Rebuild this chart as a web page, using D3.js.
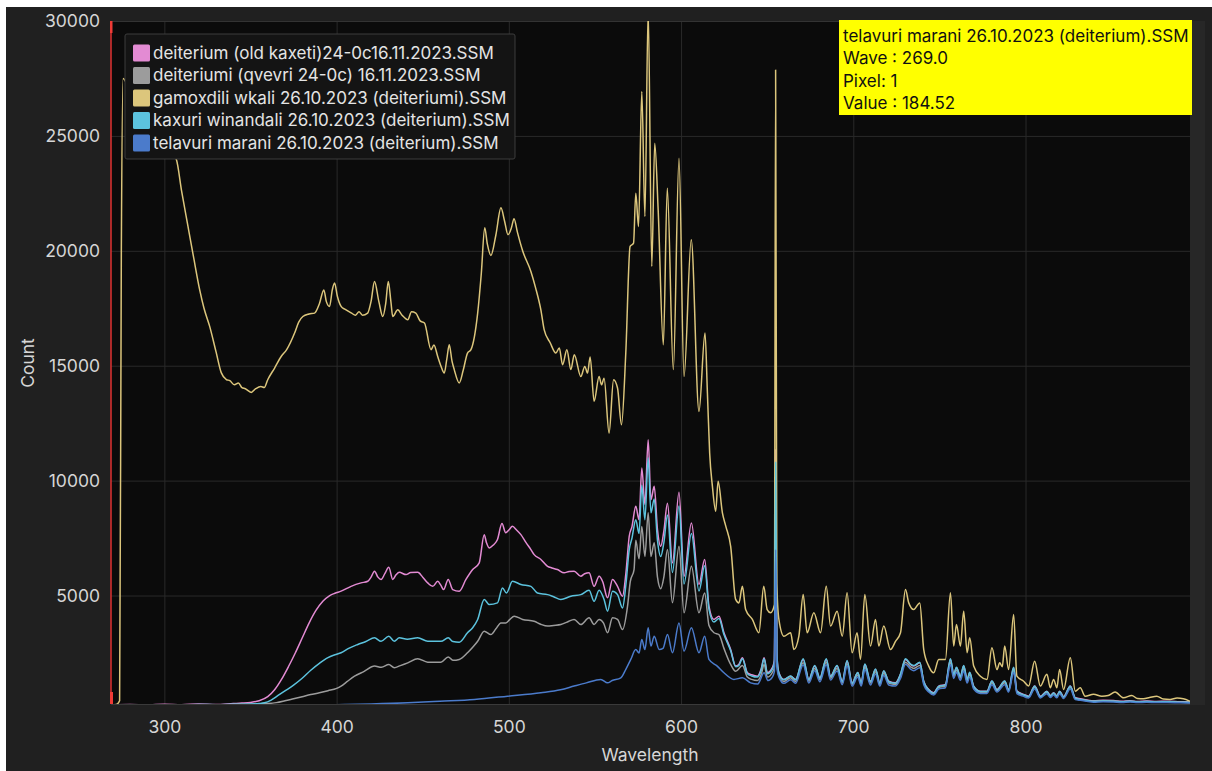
<!DOCTYPE html>
<html><head><meta charset="utf-8">
<script src="https://cdn.jsdelivr.net/npm/d3@7"></script>
<style>html,body{margin:0;padding:0;background:#fff;} svg{display:block;}</style>
</head><body><svg id="c" width="1212" height="771"></svg>
<script>
// ---------------- DATA ----------------
const seriesNames = [
  "deiterium (old kaxeti)24-0c16.11.2023.SSM",
  "deiteriumi (qvevri 24-0c) 16.11.2023.SSM",
  "gamoxdili wkali 26.10.2023 (deiteriumi).SSM",
  "kaxuri winandali 26.10.2023 (deiterium).SSM",
  "telavuri marani 26.10.2023 (deiterium).SSM"
];
const seriesColors = ["#e38bd3", "#9c9c9c", "#dcc67c", "#5cc3de", "#4b7bcb"];
const xTicks = [300, 400, 500, 600, 700, 800];
const yTicks = [5000, 10000, 15000, 20000, 25000, 30000];
const tooltipLines = ["telavuri marani 26.10.2023 (deiterium).SSM", "Wave : 269.0", "Pixel: 1", "Value : 184.52"];

// yellow: gamoxdili wkali
const gamoxdili = [[269,250],[272,260],[274,420],[275,20000],[276,27500],[278,27300],[282,26800],[288,26000],[295,25200],[301,24600],[307,23960],[310,22600],[313.7,21060],[317,19700],[320.5,18300],[323,17500],[326.3,16710],[330,15600],[333,14700],[336,14400],[338,14350],[340.6,14170],[343,14250],[345,14050],[347,14000],[350.4,13840],[353,14000],[356,14100],[358,14050],[360,14390],[364,14900],[367.8,15400],[371,15700],[375.6,16420],[378,16900],[380.4,17140],[384,17250],[387.2,17290],[390,17700],[392.6,18300],[394,17800],[395.9,17580],[397.5,18300],[398.8,18600],[400.5,18000],[402.6,17580],[405,17450],[408.4,17300],[411,17200],[413,17350],[415,17200],[418,17290],[420,17800],[422,18670],[424.5,17800],[426.8,17140],[428.5,17700],[430,18670],[431.5,17800],[432.6,17140],[435.5,17430],[438,17200],[441.3,17000],[443.5,17350],[446,17290],[448.5,16950],[451,16860],[454.8,15700],[456.5,15900],[458.7,15400],[460.5,15000],[462.5,14680],[464,15300],[465.4,15910],[467,15200],[468.3,14830],[471.2,14250],[473.5,14800],[476,15550],[478,15700],[481.9,17290],[484,19000],[486,21000],[487.5,20300],[489.6,19800],[492.5,20700],[495.4,21870],[497.5,21300],[499.5,20700],[501.5,21000],[503,21400],[505,20800],[508,20000],[512.8,19100],[515.5,18400],[518.6,17430],[520.5,16570],[524,16000],[527.3,15550],[529.3,15770],[531.2,15040],[533.7,15700],[536,14830],[538,15480],[541.8,14530],[544.1,14970],[545.7,14680],[547.2,15380],[549.5,13450],[552.4,14530],[553.8,14170],[555.3,14460],[558.2,12070],[560.8,14390],[563.1,14030],[565.4,12430],[567.9,15550],[570.4,20190],[572.4,20330],[573.7,22500],[575.3,21060],[577.2,26930],[579,21490],[580.9,30500],[583,19320],[584.7,24680],[586.7,21780],[589.7,15910],[592,22720],[595.5,14830],[598.8,24030],[601.7,14530],[605.9,20480],[610.4,13010],[613.9,16420],[615.3,13800],[616.6,11200],[618.2,9750],[620.1,8670],[621.5,9970],[624,8600],[626,8010],[628.8,7140],[631.7,4830],[633.6,4680],[635.6,5400],[637.5,4390],[641.4,3960],[645.2,3380],[648,5400],[650,4390],[652,4250],[654.2,4600],[654.9,27870],[655.6,5500],[656.8,3960],[659.7,3230],[663.6,3380],[665.5,2650],[668.4,3230],[670.9,5040],[673.2,3380],[677.1,4250],[681,3380],[684.3,5400],[686.8,3670],[690.6,4320],[693.6,3230],[696.4,5120],[699.3,2510],[702.2,3380],[704.2,2220],[706.7,5040],[710,2800],[712.9,3960],[714.8,2800],[717.7,3670],[721.6,2650],[724.5,3000],[727.4,3380],[730.3,5260],[732.2,4680],[735.1,4390],[738.6,4680],[740.9,2650],[743.8,1930],[746.7,1640],[749.6,2220],[753.5,2220],[756.4,5120],[758.3,2800],[759.9,3740],[762.2,2800],[764.1,4320],[766.1,2510],[767.6,3160],[769.9,1930],[773.8,1490],[777.6,1350],[780.5,2730],[783.4,1780],[785,2070],[786.5,1900],[787.9,2800],[790.2,1780],[793.1,4170],[795,1490],[798.9,1270],[801.8,1060],[805.3,2140],[808.6,1060],[812.4,1570],[814.4,990],[816.3,1350],[818.2,990],[819.8,1780],[822.1,910],[826,2290],[828.9,840],[831.8,990],[834.6,620],[839.5,700],[844.3,620],[848,650],[852,800],[856.9,550],[861.7,650],[865,520],[868.5,510],[872,560],[876.2,620],[880,500],[883.9,480],[888,540],[891.6,510],[895.5,400]];

// heads (269 .. 655.6) for the four lower series
const pinkHead = [[269,250],[280,260],[290,240],[300,270],[310,250],[320,280],[330,260],[340,300],[345,320],[350,350],[355,420],[360,600],[364,900],[368,1350],[372,1900],[376,2500],[380,3150],[384,3800],[388,4350],[392,4750],[396,5000],[399,5100],[402.6,5190],[408.4,5400],[414.2,5550],[418.1,5620],[420,5800],[422,6060],[424,5800],[425.8,5700],[428,5950],[430.3,6230],[432.6,5700],[434.5,5900],[436.4,6010],[440.3,5910],[443,6000],[447.1,6010],[450,5800],[452.9,5550],[455.8,5400],[458.7,5620],[460.5,5450],[462.1,5260],[464.8,5700],[467.4,5260],[471.2,5190],[475.1,5700],[479,6130],[482.8,6420],[485.7,7650],[487,7300],[488.6,7070],[491,7200],[493.4,7440],[496,8130],[498.2,7730],[500,7850],[502.1,8010],[504.5,7850],[507,7650],[510,7300],[512.8,7000],[514.7,6780],[518.6,6570],[522.5,6270],[525,6200],[528.2,6130],[532.1,5990],[535,6050],[537.9,6060],[541.8,5840],[544,5950],[546.6,5990],[549.5,5400],[552.4,5840],[554.5,5600],[557.3,4900],[560.2,5700],[563.1,5400],[566,4970],[568,6000],[569.9,7580],[571.5,8000],[573.7,8880],[575.6,8300],[577.2,10550],[579,8960],[580.9,11780],[582.5,9170],[584.4,9750],[586.3,7870],[588.2,7140],[590,7800],[592.1,9020],[595,6420],[598.8,9490],[601.7,5840],[606,8160],[610.4,5480],[613.7,6570],[616.2,4530],[619.1,3960],[622,4100],[624.9,3380],[628.8,2650],[631.7,1930],[633.5,2000],[635.6,2290],[638.5,1640],[641,1550],[644.3,1490],[646.5,1800],[648.2,2290],[650.1,1640],[653,1860],[654.2,2200],[654.9,11350],[655.6,2500]];
const grayHead = [[269,220],[280,230],[290,220],[300,240],[310,230],[320,250],[330,240],[340,260],[350,270],[355,280],[360,300],[365,340],[370,420],[375,510],[380,600],[385,690],[390,770],[395,860],[400,960],[402.6,1060],[406,1250],[410.4,1490],[416,1700],[422,1930],[426,1880],[430.3,2000],[433.5,1860],[437,1950],[441.3,2070],[447.1,2250],[452.9,2100],[460.6,2100],[464.8,2330],[467.5,2180],[471.2,2220],[476,2510],[479,2750],[481.9,3010],[485.7,3450],[489.6,3300],[492.5,3550],[495.4,3810],[498.3,3810],[500.5,3950],[503.1,4100],[508,3960],[514.7,3880],[518.5,3750],[522.5,3670],[526,3700],[530.2,3740],[534,3850],[537.9,3960],[541.8,3740],[546.6,4030],[549.5,3740],[552.4,3960],[555,3800],[557.3,3380],[560.2,4030],[563.1,3960],[566,3520],[568.9,4530],[570.5,5600],[572.7,6130],[573.7,7400],[575.6,6600],[577.2,8000],[579,6700],[580.9,8600],[582.5,6700],[584.4,7300],[586.3,5800],[588.2,5300],[590,5800],[592.1,7000],[595,4690],[598.8,7140],[601.7,4250],[606,6270],[610.4,4250],[613.7,5110],[616.2,3700],[619.1,3380],[622,3300],[624.9,2700],[628.8,2000],[631.7,1700],[635.6,1950],[638.5,1450],[641,1350],[644.3,1300],[646.5,1550],[648.2,2000],[650.1,1450],[653,1650],[654.2,1900],[654.9,9000],[655.6,2100]];
const cyanHead = [[269,230],[280,240],[290,230],[300,250],[310,240],[320,260],[330,250],[340,270],[350,280],[355,300],[358,330],[362,450],[366,650],[370,850],[375,1100],[380,1400],[385,1750],[390,2050],[395,2300],[399,2420],[402.6,2510],[407,2700],[412.3,2870],[417,3000],[422,3160],[425.8,3010],[430.3,3230],[433.5,3010],[436.4,3160],[441,3100],[447.1,3160],[452.9,3010],[460.6,3010],[464.8,3160],[467.5,3000],[471.2,2970],[476,3380],[479,3600],[481.9,3960],[485.7,4830],[488.6,4610],[493.4,4680],[496.3,5330],[498.6,5110],[502.1,5620],[507,5480],[512.8,5400],[516.6,5110],[522.5,5040],[526,4950],[530.2,4830],[536,4970],[541.8,5040],[546.6,5230],[549.5,4750],[552.4,5230],[555.3,4830],[557.3,4320],[560.2,5190],[563.1,5040],[566,4460],[568,5500],[569.9,7000],[571.5,7500],[573.7,8300],[575.6,7700],[577.2,9800],[579,8300],[580.9,11000],[582.5,8600],[584.4,9200],[586.3,7400],[588.2,6700],[590,7300],[592.1,8500],[595,6000],[598.8,8900],[601.7,5500],[606,7700],[610.4,5200],[613.7,6300],[616.2,4400],[619.1,3850],[622,4000],[624.9,3300],[628.8,2600],[631.7,1900],[633.5,1950],[635.6,2250],[638.5,1600],[641,1500],[644.3,1450],[646.5,1750],[648.2,2250],[650.1,1600],[653,1800],[654.2,2100],[654.9,10800],[655.6,2400]];
const blueHead = [[269,200],[280,210],[290,200],[300,215],[320,210],[340,220],[360,225],[380,230],[400,250],[420,280],[441.3,330],[460,400],[480,480],[499.3,620],[518.6,770],[530,900],[537.9,1060],[545,1200],[553.4,1350],[557.3,1200],[560,1300],[565,1420],[568,1800],[570.8,2220],[573.7,2650],[575.6,2500],[577.2,3090],[579,2650],[580.9,3600],[582.5,2800],[584.4,3230],[587.3,2650],[589.5,2700],[592.1,3300],[595,2510],[598.8,3810],[601.7,2580],[606,3600],[610.4,2510],[613.7,3230],[616.2,2220],[621,1930],[624.9,1640],[630.7,1350],[635.6,1420],[640.4,1200],[644.5,1150],[648.2,1640],[650.5,1300],[653,1450],[654.2,1700],[654.9,7000],[655.6,1900]];

// tails (656.8 .. 895) share one wavelength list
const tailWaves = [656.8,659.7,663.6,666.5,670.9,674.2,677.6,680.6,684.3,686.8,690.6,693.6,696.4,699.3,702.6,704.6,706.7,710,712.9,715.4,717.7,720.6,724.5,727.4,730.3,733.2,735.1,738.6,740.9,743.8,746.7,749.6,753.5,756.4,758.3,759.9,762.2,764.1,766.1,767.6,769.9,773.8,777.6,780.5,783.4,787.9,790.2,793.1,795,798.9,801.8,805.3,808.6,812.4,814.4,816.3,818.2,819.8,822.1,826,828.9,831.8,839.5,845,851,856,860.7,865,870.4,876,882,889.7,895.5];
const pinkTail = [1640,1350,1490,1350,2220,1350,1930,1420,2220,1490,1930,1270,2140,1200,1640,1200,2000,1270,1780,1200,1710,1270,1200,1570,2220,2000,1930,2070,1270,910,770,1060,1130,2220,1570,1860,1490,1930,1350,1640,1060,840,840,1270,910,1270,910,1860,840,700,620,1060,620,840,650,770,640,840,600,1060,550,510,420,440,430,400,420,390,410,390,400,380,370];
const grayTail = [1520,1260,1420,1260,2080,1270,1820,1330,2100,1400,1820,1190,2020,1130,1540,1120,1880,1190,1680,1130,1620,1190,1130,1480,2100,1900,1830,1960,1200,850,720,1000,1060,2100,1480,1760,1400,1820,1270,1560,1000,790,790,1200,860,1200,860,1760,790,660,590,1000,590,790,610,730,600,790,570,1000,520,480,400,420,410,380,400,370,390,370,380,360,350];
const cyanTail = [1620,1330,1500,1330,2250,1340,1950,1400,2250,1470,1950,1250,2170,1180,1650,1180,2020,1250,1800,1180,1730,1250,1180,1580,2250,2020,1950,2100,1250,890,750,1040,1110,2250,1560,1880,1470,1950,1330,1660,1040,820,820,1280,890,1280,890,1880,820,680,600,1050,600,820,630,760,620,820,580,1050,530,480,400,410,400,380,400,370,390,370,380,360,350];
const blueTail = [1450,1180,1330,1180,1980,1190,1730,1250,1990,1320,1720,1120,1930,1060,1450,1060,1780,1110,1590,1060,1520,1110,1060,1390,2010,1800,1730,1860,1120,800,670,930,990,1990,1390,1660,1310,1720,1190,1460,930,740,740,1120,800,1120,800,1660,730,610,540,930,540,730,560,670,550,730,520,930,470,440,360,380,370,350,370,340,360,340,350,330,320];

// ---------------- BUILD ----------------
const join = (head, tail) => head.concat(tailWaves.map((w, i) => [w, tail[i]]));
const series = [
  join(pinkHead, pinkTail),
  join(grayHead, grayTail),
  gamoxdili,
  join(cyanHead, cyanTail),
  join(blueHead, blueTail)
];

const W = 1212, H = 771;
const m = {l: 111, r: 1190, t: 21, b: 704};
const FONT = "Inter, 'Open Sans', sans-serif";
const svg = d3.select("#c");

svg.append("rect").attr("x", 6).attr("y", 7).attr("width", W - 6).attr("height", H - 7).attr("fill", "#202020");
svg.append("rect").attr("x", m.r).attr("y", m.t).attr("width", 15).attr("height", m.b - m.t + 1).attr("fill", "#272727");
svg.append("rect").attr("x", m.l).attr("y", m.t).attr("width", m.r - m.l).attr("height", m.b - m.t).attr("fill", "#0b0b0b");

const x = d3.scaleLinear().domain([269, 895.5]).range([m.l, m.r]);
const y = d3.scaleLinear().domain([280, 30000]).range([m.b, m.t]);

// grid + axes
const gx = svg.append("g").attr("transform", `translate(0,${m.b})`)
  .call(d3.axisBottom(x).tickValues(xTicks).tickSize(-(m.b - m.t)).tickPadding(17).tickFormat(d3.format("d")));
const gy = svg.append("g").attr("transform", `translate(${m.l},0)`)
  .call(d3.axisLeft(y).tickValues(yTicks).tickSize(-(m.r - m.l)).tickPadding(11).tickFormat(d3.format("d")));
[gx, gy].forEach(g => {
  g.select(".domain").remove();
  g.selectAll(".tick line").attr("stroke", "#2a2a2a").attr("stroke-width", 1);
  g.selectAll(".tick text").attr("fill", "#d6d6d6").attr("font-family", FONT).attr("font-size", 17.5);
});

svg.append("line").attr("x1", m.l).attr("x2", m.r).attr("y1", m.b + 0.5).attr("y2", m.b + 0.5).attr("stroke", "#3a3a3a");
svg.append("line").attr("x1", m.l).attr("x2", m.r).attr("y1", m.t + 0.5).attr("y2", m.t + 0.5).attr("stroke", "#333");

// axis titles
svg.append("text").attr("x", 650).attr("y", 761).attr("text-anchor", "middle")
  .attr("fill", "#d6d6d6").attr("font-family", FONT).attr("font-size", 17.5).text("Wavelength");
svg.append("text").attr("transform", "translate(34,363) rotate(-90)").attr("text-anchor", "middle")
  .attr("fill", "#d6d6d6").attr("font-family", FONT).attr("font-size", 17.5).text("Count");

// lines
svg.append("clipPath").attr("id", "clip").append("rect")
  .attr("x", m.l).attr("y", m.t).attr("width", m.r - m.l).attr("height", m.b - m.t);
const line = d3.line().curve(d3.curveMonotoneX).x(d => x(d[0])).y(d => y(d[1]));
const lg = svg.append("g").attr("clip-path", "url(#clip)");
series.forEach((s, i) => {
  lg.append("path").datum(s).attr("d", line).attr("fill", "none")
    .attr("stroke", seriesColors[i]).attr("stroke-width", 1.5).attr("stroke-linejoin", "round");
});

// cursor line (red) at first wave
const cx = x(269);
svg.append("line").attr("x1", cx).attr("x2", cx).attr("y1", m.t).attr("y2", m.b).attr("stroke", "#d32f2f").attr("stroke-width", 1.6);
svg.append("rect").attr("x", cx - 1).attr("y", m.t).attr("width", 2.5).attr("height", 12).attr("fill", "#ef3b36");
svg.append("rect").attr("x", cx - 1).attr("y", m.b - 12).attr("width", 3).attr("height", 12).attr("fill", "#ef3b36");

// legend
const leg = svg.append("g");
leg.append("rect").attr("x", 125).attr("y", 34).attr("width", 390).attr("height", 125)
  .attr("rx", 2).attr("fill", "#141414").attr("stroke", "#3c3c3c");
seriesNames.forEach((n, i) => {
  const cy = 53 + i * 22.5;
  leg.append("rect").attr("x", 133).attr("y", cy - 8.5).attr("width", 17).attr("height", 17).attr("rx", 1.5).attr("fill", seriesColors[i]);
  leg.append("text").attr("x", 153).attr("y", cy).attr("dy", "0.35em").attr("fill", "#e4e4e4")
    .attr("font-family", FONT).attr("font-size", 17).text(n);
});

// tooltip
const tt = svg.append("g");
tt.append("rect").attr("x", 839).attr("y", 20).attr("width", 353).attr("height", 95).attr("fill", "#ffff00");
tooltipLines.forEach((t, i) => {
  tt.append("text").attr("x", 843).attr("y", 36 + i * 22.3).attr("dy", "0.35em").attr("fill", "#111")
    .attr("font-family", FONT).attr("font-size", 17).text(t);
});
</script>
</body></html>
